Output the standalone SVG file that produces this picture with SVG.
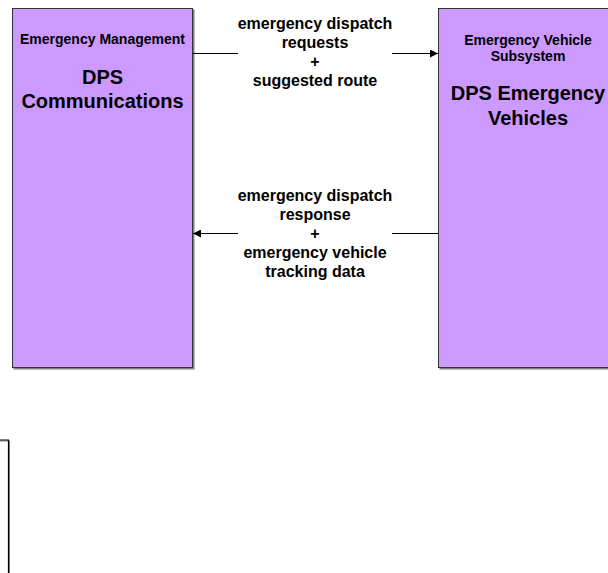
<svg xmlns="http://www.w3.org/2000/svg" width="608" height="573" viewBox="0 0 608 573">
<defs>
<style>
.box{fill:#CC99FF;stroke:#333;stroke-width:1}
.shadow{fill:#808080}
.t{font-family:"Liberation Sans",Arial,sans-serif;font-weight:bold;fill:#000;text-anchor:middle}
.s{font-size:14px}
.b{font-size:20px}
.l{font-size:16px}
.c{stroke:#000;stroke-width:1.2;fill:none}
</style>
<marker id="ah" viewBox="0 0 10 10" refX="10" refY="5" markerWidth="10" markerHeight="8" markerUnits="userSpaceOnUse" orient="auto">
<path d="M0,0 L10,5 L0,10 z" fill="#000"/>
</marker>
</defs>
<rect width="608" height="573" fill="#fff"/>
<g id="node-dps-communications">
<rect class="shadow" x="13.5" y="9.5" width="181" height="360"/>
<rect class="box" x="12.5" y="8.5" width="180" height="359"/>
<text class="t s" x="102.5" y="44">Emergency Management</text>
<text class="t b" x="102.5" y="84">DPS</text>
<text class="t b" x="102.5" y="108">Communications</text>
</g>
<g id="node-dps-emergency-vehicles">
<rect class="shadow" x="439.5" y="9.5" width="180" height="360"/>
<rect class="box" x="438.5" y="8.5" width="180" height="359"/>
<text class="t s" x="528" y="45">Emergency Vehicle</text>
<text class="t s" x="528" y="61">Subsystem</text>
<text class="t b" x="528" y="100">DPS Emergency</text>
<text class="t b" x="528" y="125">Vehicles</text>
</g>
<g id="connectors">
<line class="c" x1="193" y1="53.5" x2="238" y2="53.5"/>
<line class="c" x1="392" y1="53.5" x2="438" y2="53.5" marker-end="url(#ah)"/>
<text class="t l" x="315" y="29">emergency dispatch</text>
<text class="t l" x="315" y="48">requests</text>
<text class="t l" x="315" y="67">+</text>
<text class="t l" x="315" y="86">suggested route</text>
<line class="c" x1="438" y1="233.5" x2="392" y2="233.5"/>
<line class="c" x1="238" y1="233.5" x2="193" y2="233.5" marker-end="url(#ah)"/>
<text class="t l" x="315" y="201">emergency dispatch</text>
<text class="t l" x="315" y="220">response</text>
<text class="t l" x="315" y="239">+</text>
<text class="t l" x="315" y="258">emergency vehicle</text>
<text class="t l" x="315" y="277">tracking data</text>
</g>
<g id="partial-frame">
<polyline points="0,441 9.5,441 9.5,573" fill="none" stroke="#808080" stroke-width="1"/>
<polyline points="0,440 8.5,440 8.5,573" fill="none" stroke="#000" stroke-width="1.2"/>
</g>
</svg>
